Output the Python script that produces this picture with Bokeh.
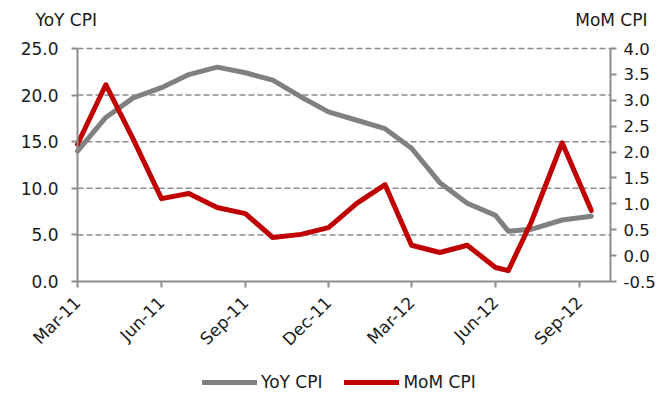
import pandas as pd
from math import pi
from bokeh.plotting import figure
from bokeh.models import (Range1d, LinearAxis, FixedTicker, NumeralTickFormatter,
                          DatetimeTickFormatter, Legend, LegendItem, Label, ColumnDataSource)
from bokeh.embed import file_html
from bokeh.resources import INLINE

# ---------------- data ----------------
dates = ["2011-03-01", "2011-04-01", "2011-05-01", "2011-06-01", "2011-07-01",
         "2011-08-01", "2011-09-01", "2011-10-01", "2011-11-01", "2011-12-01",
         "2012-01-01", "2012-02-01", "2012-03-01", "2012-04-01", "2012-05-01",
         "2012-06-01", "2012-06-15", "2012-07-10", "2012-08-13", "2012-09-14"]
yoy_cpi = [14.0, 17.6, 19.7, 20.8, 22.2, 23.0, 22.4, 21.6, 19.8, 18.2,
           17.3, 16.4, 14.3, 10.6, 8.4, 7.1, 5.4, 5.6, 6.6, 7.0]
mom_cpi = [2.15, 3.30, 2.25, 1.10, 1.20, 0.93, 0.81, 0.35, 0.41, 0.54,
           1.01, 1.37, 0.20, 0.06, 0.20, -0.23, -0.29, 0.64, 2.18, 0.87]
x_tick_dates = ["2011-03-01", "2011-06-01", "2011-09-01", "2011-12-01",
                "2012-03-01", "2012-06-01", "2012-09-01"]
yoy_ticks = [0, 5, 10, 15, 20, 25]
mom_ticks = [-0.5, 0.0, 0.5, 1.0, 1.5, 2.0, 2.5, 3.0, 3.5, 4.0]
x_start, x_end = "2011-03-01", "2012-10-05"
series_names = ["YoY CPI", "MoM CPI"]
series_colors = ["#808080", "#C00000"]

# ---------------- layout / style ----------------
FONT = "DejaVu Sans"
AXIS_GRAY = "#8c8c8c"
TEXT = "#1a1a1a"
W, H = 656, 393
PL, PR, PT, PB = 77, 610, 48, 281   # plot-area edges (px) inside the canvas


def ext_range(lo, hi, px_lo, px_hi, total, flip=False):
    """Range covering the whole canvas so that lo..hi lands on px_lo..px_hi."""
    if flip:  # vertical: px measured from top
        per = (hi - lo) / (px_lo - px_hi)
        return Range1d(lo - (total - px_lo) * per, hi + px_hi * per)
    per = (hi - lo) / (px_hi - px_lo)
    return Range1d(lo - px_lo * per, hi + (total - px_hi) * per)


ms = lambda d: pd.Timestamp(d).value / 1e6
xs, xe = ms(x_start), ms(x_end)

src = ColumnDataSource(dict(date=pd.to_datetime(dates), yoy=yoy_cpi, mom=mom_cpi))

p = figure(width=W, height=H, x_axis_type="datetime", title=None,
           x_range=ext_range(xs, xe, PL, PR, W),
           y_range=ext_range(yoy_ticks[0], yoy_ticks[-1], PB, PT, H, flip=True),
           output_backend="svg", toolbar_location=None, min_border=0)
p.outline_line_color = None
p.grid.visible = False
p.extra_y_ranges = {"mom": ext_range(mom_ticks[0], mom_ticks[-1], PB, PT, H, flip=True)}


def style_axis(ax, standoff, size="17px"):
    ax.axis_line_color = AXIS_GRAY
    ax.axis_line_width = 2
    ax.major_tick_line_color = AXIS_GRAY
    ax.major_tick_line_width = 2
    ax.major_tick_in = 0
    ax.major_tick_out = 6
    ax.minor_tick_line_color = None
    ax.major_label_text_font = FONT
    ax.major_label_text_font_size = size
    ax.major_label_text_color = TEXT
    ax.major_label_standoff = standoff


xa = p.xaxis[0]
style_axis(xa, 12)
xa.fixed_location = 0
xa.bounds = (xs, xe)
xa.ticker = FixedTicker(ticks=[ms(d) for d in x_tick_dates])
fmt = "%b-%y"
xa.formatter = DatetimeTickFormatter(milliseconds=fmt, seconds=fmt, minsec=fmt, minutes=fmt,
                                     hourmin=fmt, hours=fmt, days=fmt, months=fmt, years=fmt)
xa.major_label_orientation = pi / 4

ya = p.yaxis[0]
style_axis(ya, 13)
ya.fixed_location = xs
ya.bounds = (yoy_ticks[0], yoy_ticks[-1])
ya.ticker = FixedTicker(ticks=yoy_ticks)
ya.formatter = NumeralTickFormatter(format="0.0")

right_axis = LinearAxis(y_range_name="mom")
style_axis(right_axis, 7, size="16.5px")
right_axis.fixed_location = xe
right_axis.bounds = (mom_ticks[0], mom_ticks[-1])
right_axis.ticker = FixedTicker(ticks=mom_ticks)
right_axis.formatter = NumeralTickFormatter(format="0.0")
p.add_layout(right_axis, "right")

# dashed horizontal gridlines at the YoY ticks (plot area only)
grid_y = yoy_ticks[1:]
p.segment(x0=[pd.Timestamp(x_start)] * len(grid_y), x1=[pd.Timestamp(x_end)] * len(grid_y),
          y0=grid_y, y1=grid_y, line_color=AXIS_GRAY, line_width=1.5, line_dash="6 3")

renderers = [
    p.line("date", "yoy", source=src, line_color=series_colors[0], line_width=5,
           line_join="round", line_cap="round"),
    p.line("date", "mom", source=src, y_range_name="mom", line_color=series_colors[1],
           line_width=5, line_join="round", line_cap="round"),
]

# axis titles
p.add_layout(Label(x=35, y=H - 19, x_units="screen", y_units="screen", text=series_names[0],
                   text_baseline="middle", text_align="left", text_font=FONT,
                   text_font_size="17px", text_color=TEXT))
p.add_layout(Label(x=647, y=H - 19, x_units="screen", y_units="screen", text=series_names[1],
                   text_baseline="middle", text_align="right", text_font=FONT,
                   text_font_size="17px", text_color=TEXT))

legend = Legend(items=[LegendItem(label=n, renderers=[r]) for n, r in zip(series_names, renderers)],
                orientation="horizontal", location=(202, 1), padding=0, margin=0,
                spacing=22, glyph_width=55, glyph_height=20, label_height=20,
                label_standoff=4, label_text_font=FONT, label_text_font_size="17px",
                label_text_color=TEXT, border_line_color=None, background_fill_alpha=0)
p.add_layout(legend)

open("out.html", "w").write(file_html(p, INLINE))
